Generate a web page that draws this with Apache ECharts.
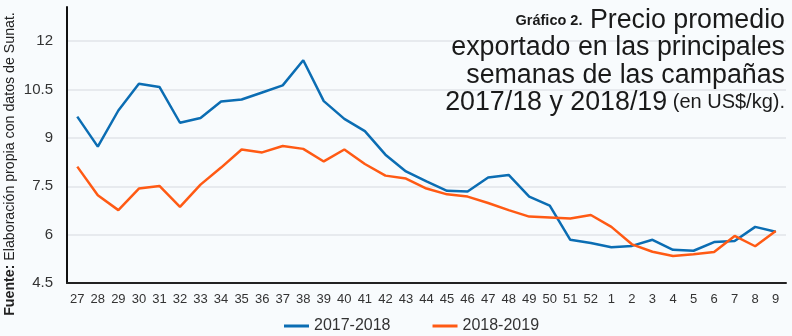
<!DOCTYPE html>
<html>
<head>
<meta charset="utf-8">
<script src="https://cdn.jsdelivr.net/npm/echarts@6/dist/echarts.min.js"></script>
<style>
html,body{margin:0;padding:0;background:#f8fbfd;}
#chart{width:792px;height:336px;}
</style>
</head>
<body>
<div id="chart"></div>
<script>
const weeks = ['27','28','29','30','31','32','33','34','35','36','37','38','39','40','41','42','43','44','45','46','47','48','49','50','51','52','1','2','3','4','5','6','7','8','9'];
const serie2017 = [9.66,8.73,9.85,10.68,10.58,9.47,9.62,10.13,10.19,10.41,10.63,11.41,10.14,9.59,9.21,8.48,7.96,7.65,7.36,7.34,7.77,7.85,7.18,6.90,5.84,5.74,5.61,5.65,5.84,5.53,5.50,5.77,5.80,6.24,6.09];
const serie2018 = [8.11,7.22,6.76,7.43,7.51,6.86,7.55,8.08,8.64,8.55,8.75,8.66,8.27,8.64,8.19,7.83,7.74,7.43,7.25,7.18,6.98,6.76,6.56,6.53,6.50,6.61,6.24,5.70,5.47,5.34,5.39,5.46,5.96,5.64,6.11];
const seriesNames = ['2017-2018','2018-2019'];
const yTicks = {min: 4.5, interval: 1.5, max: 13.06};

const chart = echarts.init(document.getElementById('chart'), null, {renderer: 'canvas'});
const titleFont = 'Liberation Sans';
chart.setOption({
  backgroundColor: '#f8fbfd',
  animation: false,
  graphic: [{
    type: 'text',
    x: 785,
    y: 7,
    z: 10,
    style: {
      text: '{b|Gráfico 2.}{n| Precio promedio}\n{n|exportado en las principales}\n{n|semanas de las campañas}\n{n|2017/18 y 2018/19}{s| (en US$/kg).}',
      align: 'right',
      verticalAlign: 'top',
      rich: {
        b: {fontFamily: titleFont, fontWeight: 'bold', fontSize: 14.5, fill: '#1a1a1a', lineHeight: 27.3, align: 'right'},
        n: {fontFamily: titleFont, fontWeight: 'normal', fontSize: 26.8, fill: '#1a1a1a', lineHeight: 27.3, align: 'right'},
        s: {fontFamily: titleFont, fontWeight: 'normal', fontSize: 20, fill: '#1a1a1a', lineHeight: 27.3, align: 'right'}
      }
    }
  }, {
    type: 'text',
    x: 10,
    y: 164,
    rotation: Math.PI / 2,
    style: {
      text: '{b|Fuente:}{n| Elaboración propia con datos de Sunat.}',
      align: 'center',
      verticalAlign: 'middle',
      rich: {
        b: {fontFamily: titleFont, fontWeight: 'bold', fontSize: 14.2, fill: '#222'},
        n: {fontFamily: titleFont, fontSize: 14.2, fill: '#222'}
      }
    }
  }],
  legend: {
    top: 318,
    left: 284,
    padding: 0,
    itemWidth: 25,
    itemHeight: 3,
    itemGap: 42,
    icon: 'rect',
    textStyle: {fontFamily: 'Liberation Sans', fontSize: 16, color: '#333'},
    data: seriesNames
  },
  grid: {left: 67, right: 6, top: 7, bottom: 53, show: false},
  xAxis: {
    type: 'category',
    data: weeks,
    boundaryGap: true,
    axisLine: {lineStyle: {color: '#222', width: 2}},
    axisTick: {show: false},
    axisLabel: {interval: 0, margin: 10, fontFamily: 'Liberation Sans', fontSize: 13, color: '#333'}
  },
  yAxis: {
    type: 'value',
    min: yTicks.min,
    max: yTicks.max,
    interval: yTicks.interval,
    axisLine: {show: true, lineStyle: {color: '#111', width: 2}},
    axisTick: {show: false},
    axisLabel: {margin: 14, fontFamily: 'Liberation Sans', fontSize: 15, color: '#333', showMaxLabel: false},
    splitLine: {show: true, showMinLine: false, showMaxLine: false, lineStyle: {color: '#e2e5e8', width: 1.5}}
  },
  series: [
    {name: seriesNames[0], type: 'line', data: serie2017, symbol: 'none', lineStyle: {color: '#0b6db3', width: 2.5}, itemStyle: {color: '#0b6db3'}},
    {name: seriesNames[1], type: 'line', data: serie2018, symbol: 'none', lineStyle: {color: '#ff5a14', width: 2.5}, itemStyle: {color: '#ff5a14'}}
  ]
});
</script>
</body>
</html>
